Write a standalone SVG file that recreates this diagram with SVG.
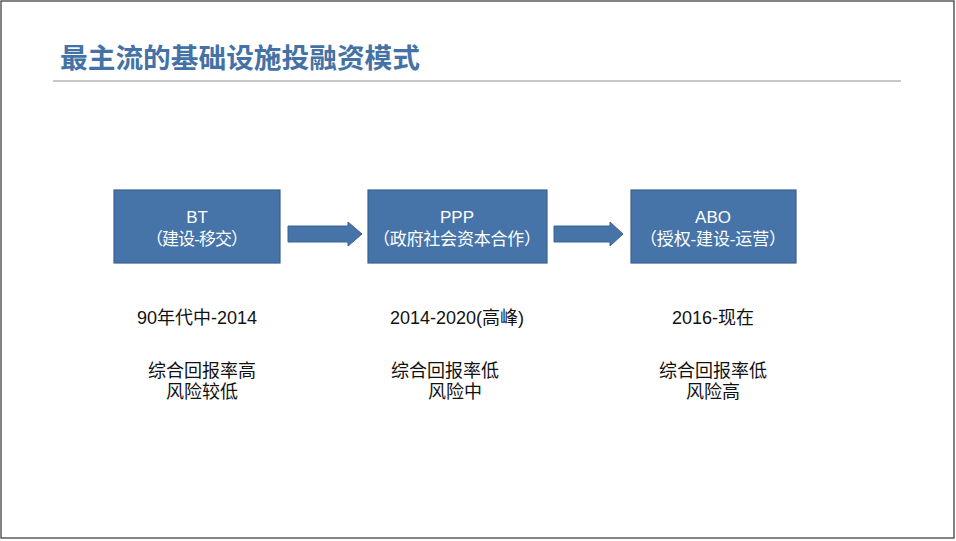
<svg xmlns="http://www.w3.org/2000/svg" width="956" height="541" viewBox="0 0 956 541">
<style>
.box{fill:#4674a9;stroke:#3a6291;stroke-width:1.2}
.bt{font-family:"Liberation Sans","Noto Sans CJK SC",sans-serif;font-size:17px;fill:#ffffff;text-anchor:middle}
.lbl{font-family:"Liberation Sans","Noto Sans CJK SC",sans-serif;font-size:18px;fill:#111111;text-anchor:middle}
.arr{fill:#4674a9;stroke:#3a6291;stroke-width:1}
</style>
<rect x="1" y="1" width="953" height="537" fill="#ffffff" stroke="#333333" stroke-width="1.2"/>
<g id="title">
<text x="60" y="68" font-family="Liberation Sans,'Noto Sans CJK SC',sans-serif" font-size="27.7" font-weight="bold" fill="#4472a6">最主流的基础设施投融资模式</text>
<line x1="53" y1="81" x2="901" y2="81" stroke="#b4b4b4" stroke-width="1.5"/>
</g>
<g id="connectors">
<polygon class="arr" points="288,226 348,226 348,222 362,234 348,246 348,242 288,242"/>
<polygon class="arr" points="554,226 610,226 610,222 623,234 610,246 610,242 554,242"/>
</g>
<g id="node-bt">
<rect class="box" x="114" y="190" width="166" height="73"/>
<text class="bt" x="197" y="223">BT</text>
<text class="bt" x="197" y="245" textLength="102">（建设-移交）</text>
</g>
<g id="node-ppp">
<rect class="box" x="368" y="190" width="179" height="73"/>
<text class="bt" x="457" y="223">PPP</text>
<text class="bt" x="457" y="245" textLength="168">（政府社会资本合作）</text>
</g>
<g id="node-abo">
<rect class="box" x="631" y="190" width="165" height="73"/>
<text class="bt" x="713" y="223">ABO</text>
<text class="bt" x="713" y="245" textLength="146">（授权-建设-运营）</text>
</g>
<g id="label-bt">
<text class="lbl" x="197" y="324">90年代中-2014</text>
<text class="lbl" x="202" y="377">综合回报率高</text>
<text class="lbl" x="202" y="398">风险较低</text>
</g>
<g id="label-ppp">
<text class="lbl" x="457" y="324">2014-2020(高峰)</text>
<text class="lbl" x="445" y="377">综合回报率低</text>
<text class="lbl" x="455" y="398">风险中</text>
</g>
<g id="label-abo">
<text class="lbl" x="713" y="324">2016-现在</text>
<text class="lbl" x="713" y="377">综合回报率低</text>
<text class="lbl" x="713" y="398">风险高</text>
</g>
</svg>
